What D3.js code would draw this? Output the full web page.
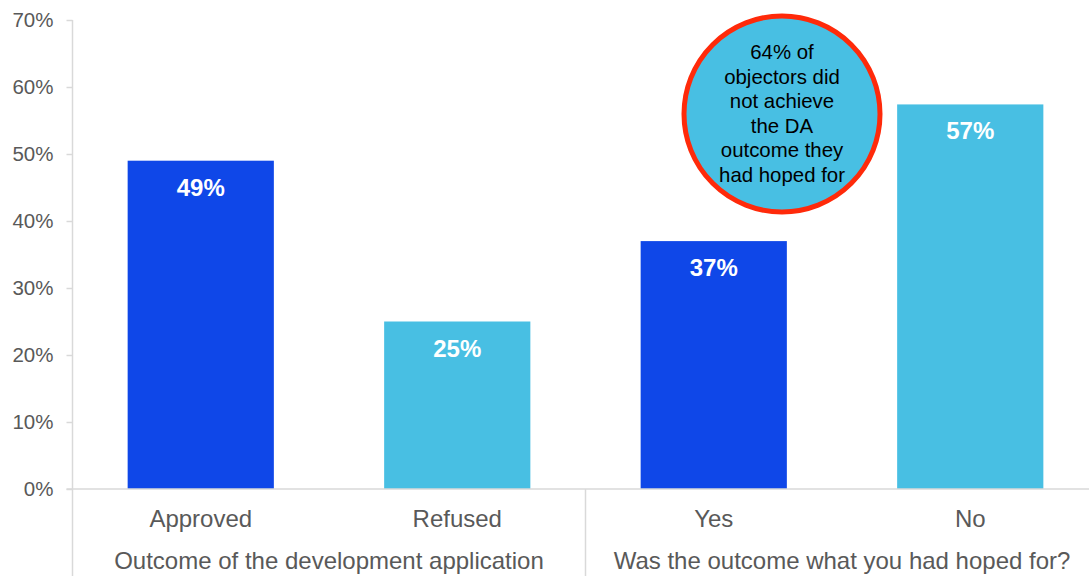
<!DOCTYPE html>
<html lang="en">
<head>
    <meta charset="UTF-8">
    <title>DA outcomes</title>
    <script src="https://d3js.org/d3.v7.min.js"></script>
    <style>
        body {
            margin: 0;
            overflow: hidden;
            background: #fff;
        }
        text {
            font-family: "Liberation Sans", Arial, sans-serif;
        }
    </style>
</head>
<body>
    <div id="chart"></div>
</body>
<script>
    const categories = ["Approved", "Refused", "Yes", "No"];
    const values = [49, 25, 37, 57.4];
    const valueLabels = ["49%", "25%", "37%", "57%"];
    const barColors = ["#0f47e8", "#48bfe3", "#0f47e8", "#48bfe3"];
    const groups = ["Outcome of the development application", "Was the outcome what you had hoped for?"];
    const groupOf = [0, 0, 1, 1];
    const yTicks = [0, 10, 20, 30, 40, 50, 60, 70];
    const noteLines = ["64% of", "objectors did", "not achieve", "the DA", "outcome they", "had hoped for"];

    const width = 1089;
    const height = 576;
    // plot runs a little past the right edge of the window, like the original
    const plotLeft = 72.5, plotRight = 1098.5, plotTop = 20, plotBottom = 489;

    const svg = d3.select("#chart")
        .append("svg")
        .attr("width", width)
        .attr("height", height);

    const x = d3.scaleBand().domain(categories).range([plotLeft, plotRight]).paddingInner(0.43).paddingOuter(0.215);
    const y = d3.scaleLinear().domain([0, 70]).range([plotBottom, plotTop]);

    // y axis
    const yAxis = svg.append("g")
        .attr("transform", `translate(${plotLeft},0)`)
        .call(d3.axisLeft(y).tickValues(yTicks).tickFormat(d => d + "%").tickSize(6).tickPadding(13));
    yAxis.select(".domain").remove();
    yAxis.selectAll(".tick line").attr("stroke", "#d9d9d9").attr("stroke-width", 1.5);
    yAxis.selectAll(".tick text").attr("fill", "#595959").style("font-size", "20.5px");

    svg.append("line")
        .attr("x1", plotLeft).attr("x2", plotLeft)
        .attr("y1", plotTop).attr("y2", height)
        .attr("stroke", "#d9d9d9").attr("stroke-width", 1.5);

    // bars
    svg.selectAll("rect.bar")
        .data(values)
        .join("rect")
        .attr("class", "bar")
        .attr("x", (d, i) => x(categories[i]))
        .attr("width", x.bandwidth())
        .attr("y", d => y(d))
        .attr("height", d => plotBottom - y(d))
        .attr("fill", (d, i) => barColors[i]);

    svg.selectAll("text.val")
        .data(values)
        .join("text")
        .attr("class", "val")
        .attr("x", (d, i) => x(categories[i]) + x.bandwidth() / 2)
        .attr("y", d => y(d) + 35)
        .attr("text-anchor", "middle")
        .attr("fill", "#fff")
        .style("font-size", "24px")
        .style("font-weight", "bold")
        .text((d, i) => valueLabels[i]);

    // baseline
    svg.append("line")
        .attr("x1", plotLeft - 6).attr("x2", plotRight)
        .attr("y1", plotBottom).attr("y2", plotBottom)
        .attr("stroke", "#d9d9d9").attr("stroke-width", 1.5);

    // group separator
    const sep = (x(categories[1]) + x.bandwidth() + x(categories[2])) / 2;
    svg.append("line")
        .attr("x1", sep).attr("x2", sep)
        .attr("y1", plotBottom).attr("y2", height)
        .attr("stroke", "#d9d9d9").attr("stroke-width", 1.5);

    // category labels
    svg.selectAll("text.cat")
        .data(categories)
        .join("text")
        .attr("class", "cat")
        .attr("x", d => x(d) + x.bandwidth() / 2)
        .attr("y", 527)
        .attr("text-anchor", "middle")
        .attr("fill", "#595959")
        .style("font-size", "24px")
        .text(d => d);

    // group labels
    svg.selectAll("text.grp")
        .data(groups)
        .join("text")
        .attr("class", "grp")
        .attr("x", (d, gi) => {
            const idx = categories.filter((c, i) => groupOf[i] === gi);
            return (x(idx[0]) + x(idx[1]) + x.bandwidth()) / 2;
        })
        .attr("y", 569)
        .attr("text-anchor", "middle")
        .attr("fill", "#595959")
        .style("font-size", "24px")
        .text(d => d);

    // annotation circle
    const note = svg.append("g").attr("transform", "translate(782,114)");
    note.append("circle")
        .attr("r", 98)
        .attr("fill", "#48bfe3")
        .attr("stroke", "#ff2a0a")
        .attr("stroke-width", 5);
    note.selectAll("text")
        .data(noteLines)
        .join("text")
        .attr("x", 0)
        .attr("y", (d, i) => -55 + i * 24.6)
        .attr("text-anchor", "middle")
        .attr("fill", "#000")
        .style("font-size", "20.4px")
        .text(d => d);
</script>
</html>
